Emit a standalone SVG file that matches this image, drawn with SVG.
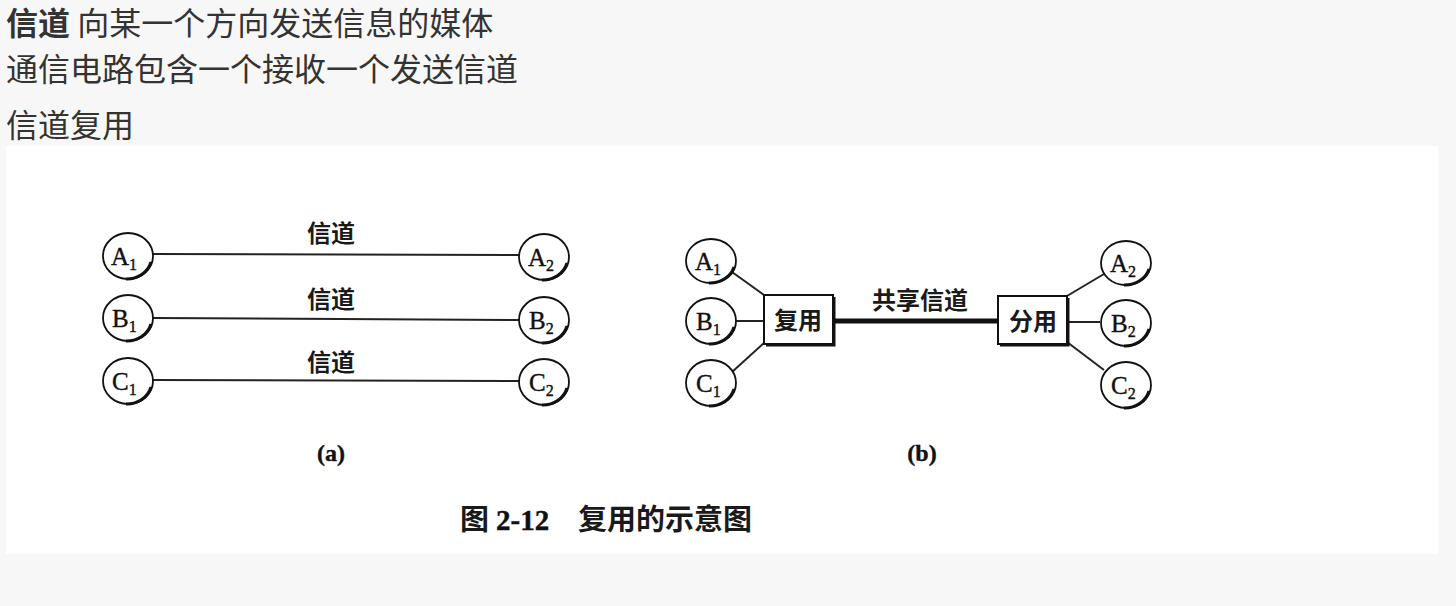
<svg xmlns="http://www.w3.org/2000/svg" width="1456" height="606" viewBox="0 0 1456 606">
<style>
.hd{font-family:"Noto Sans CJK SC","Noto Sans",sans-serif;font-size:32px;fill:#333}
.cj{font-family:"Noto Sans CJK SC",sans-serif;font-size:24px;font-weight:700;fill:#1a1a1a}
.lt{font-family:"Liberation Serif",serif;font-size:25px;fill:#111;stroke:#111;stroke-width:0.4}
.sb{font-size:16px}
.nd{fill:#fff;stroke:#111;stroke-width:1.8}
.sh{fill:none;stroke:#111;stroke-width:3}
.ln{stroke:#222;stroke-width:2;fill:none}
.bx{fill:#fff;stroke:#111;stroke-width:2}
.cap{font-size:29px}
.sl{font-size:24px;font-weight:700}
</style>
<rect x="0" y="0" width="1456" height="606" fill="#f7f7f7"/>
<rect x="6" y="146" width="1432" height="408" fill="#fff"/>
<g id="header">
<text class="hd" x="6" y="35"><tspan font-weight="700">信道</tspan> 向某一个方向发送信息的媒体</text>
<text class="hd" x="6" y="81">通信电路包含一个接收一个发送信道</text>
<text class="hd" x="6" y="137">信道复用</text>
</g>
<g id="connectors">
<line class="ln" x1="153" y1="254" x2="519" y2="255"/>
<line class="ln" x1="153" y1="318" x2="519" y2="320"/>
<line class="ln" x1="153" y1="380" x2="519" y2="381"/>
<line class="ln" x1="732" y1="272" x2="764" y2="295"/>
<line class="ln" x1="736" y1="321" x2="764" y2="321"/>
<line class="ln" x1="764" y1="343" x2="732" y2="372"/>
<line x1="833" y1="321" x2="998" y2="321" stroke="#111" stroke-width="5"/>
<line class="ln" x1="1067" y1="296" x2="1104" y2="274"/>
<line class="ln" x1="1067" y1="322" x2="1100" y2="322"/>
<line class="ln" x1="1067" y1="342" x2="1104" y2="370"/>
</g>
<g id="labels-a">
<text class="cj" x="331" y="242" text-anchor="middle">信道</text>
<text class="cj" x="331" y="308" text-anchor="middle">信道</text>
<text class="cj" x="331" y="371" text-anchor="middle">信道</text>
</g>
<g id="a-A1"><ellipse class="nd" cx="128" cy="256" rx="25" ry="23"/><path class="sh" d="M151 262 A25 23 0 0 1 126 279"/><text class="lt" x="111" y="265">A<tspan class="sb" dy="5">1</tspan></text></g>
<g id="a-B1"><ellipse class="nd" cx="128" cy="318" rx="25" ry="23"/><path class="sh" d="M151 324 A25 23 0 0 1 126 341"/><text class="lt" x="112" y="327">B<tspan class="sb" dy="5">1</tspan></text></g>
<g id="a-C1"><ellipse class="nd" cx="128" cy="381" rx="25" ry="23"/><path class="sh" d="M151 387 A25 23 0 0 1 126 404"/><text class="lt" x="112" y="390">C<tspan class="sb" dy="5">1</tspan></text></g>
<g id="a-A2"><ellipse class="nd" cx="544" cy="257" rx="25" ry="23"/><path class="sh" d="M567 263 A25 23 0 0 1 542 280"/><text class="lt" x="528" y="266">A<tspan class="sb" dy="5">2</tspan></text></g>
<g id="a-B2"><ellipse class="nd" cx="544" cy="320" rx="25" ry="23"/><path class="sh" d="M567 326 A25 23 0 0 1 542 343"/><text class="lt" x="529" y="329">B<tspan class="sb" dy="5">2</tspan></text></g>
<g id="a-C2"><ellipse class="nd" cx="544" cy="382" rx="25" ry="23"/><path class="sh" d="M567 388 A25 23 0 0 1 542 405"/><text class="lt" x="529" y="391">C<tspan class="sb" dy="5">2</tspan></text></g>
<g id="b-A1"><ellipse class="nd" cx="711" cy="261" rx="25" ry="22"/><path class="sh" d="M734 267 A25 22 0 0 1 709 283"/><text class="lt" x="695" y="270">A<tspan class="sb" dy="5">1</tspan></text></g>
<g id="b-B1"><ellipse class="nd" cx="711" cy="321" rx="25" ry="23"/><path class="sh" d="M734 327 A25 23 0 0 1 709 344"/><text class="lt" x="696" y="330">B<tspan class="sb" dy="5">1</tspan></text></g>
<g id="b-C1"><ellipse class="nd" cx="711" cy="383" rx="25" ry="23"/><path class="sh" d="M734 389 A25 23 0 0 1 709 406"/><text class="lt" x="696" y="392">C<tspan class="sb" dy="5">1</tspan></text></g>
<g id="b-mux"><rect class="bx" x="764" y="295" width="69" height="49"/><path d="M766 345 H834 V297" class="sh"/><text class="cj" x="798" y="329" text-anchor="middle">复用</text></g>
<g id="b-shared"><text class="cj" x="920" y="309" text-anchor="middle">共享信道</text></g>
<g id="b-demux"><rect class="bx" x="998" y="296" width="69" height="48"/><path d="M1000 345 H1068 V298" class="sh"/><text class="cj" x="1033" y="330" text-anchor="middle">分用</text></g>
<g id="b-A2"><ellipse class="nd" cx="1126" cy="263" rx="25" ry="22"/><path class="sh" d="M1149 269 A25 22 0 0 1 1124 285"/><text class="lt" x="1110" y="272">A<tspan class="sb" dy="5">2</tspan></text></g>
<g id="b-B2"><ellipse class="nd" cx="1126" cy="323" rx="25" ry="23"/><path class="sh" d="M1149 329 A25 23 0 0 1 1124 346"/><text class="lt" x="1111" y="332">B<tspan class="sb" dy="5">2</tspan></text></g>
<g id="b-C2"><ellipse class="nd" cx="1126" cy="385" rx="25" ry="23"/><path class="sh" d="M1149 391 A25 23 0 0 1 1124 408"/><text class="lt" x="1111" y="394">C<tspan class="sb" dy="5">2</tspan></text></g>
<g id="captions">
<text class="lt sl" x="331" y="461" text-anchor="middle">(a)</text>
<text class="lt sl" x="922" y="461" text-anchor="middle">(b)</text>
<text class="cj cap" x="460" y="530">图</text>
<text class="lt cap" x="496" y="530" font-weight="700">2-12</text>
<text class="cj cap" x="578" y="530">复用的示意图</text>
</g>
</svg>
